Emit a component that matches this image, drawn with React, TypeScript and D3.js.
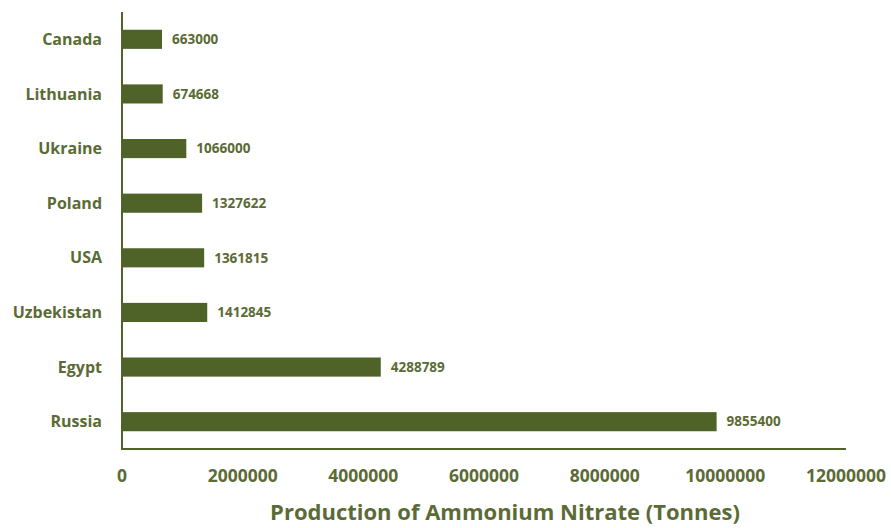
import React from "react";
import * as d3 from "d3";

const categories = ["Canada", "Lithuania", "Ukraine", "Poland", "USA", "Uzbekistan", "Egypt", "Russia"];
const values = [663000, 674668, 1066000, 1327622, 1361815, 1412845, 4288789, 9855400];
const xTicks = [0, 2000000, 4000000, 6000000, 8000000, 10000000, 12000000];
const xTitle = "Production of Ammonium Nitrate (Tonnes)";

const W = 891;
const H = 528;
const left = 122;
const right = 846;
const top = 12;
const bottom = 449;
const green = "#4f6228";
const textGreen = "#5b6b35";
const font = "'Open Sans', sans-serif";

export default function App() {
  const x = d3.scaleLinear().domain([0, 12000000]).range([left, right]);
  const y = d3.scaleBand<string>().domain(categories).range([top, bottom]).paddingInner(0.65).paddingOuter(0.325);
  return (
    <svg width={W} height={H} style={{ position: "absolute", left: 0, top: 0 }}>
      <rect width={W} height={H} fill="#fff" />
      {categories.map((c, i) => (
        <g key={c}>
          <rect x={x(0)} y={y(c)!} width={x(values[i]) - x(0)} height={y.bandwidth()} fill={green} />
          <text x={102} y={y(c)! + y.bandwidth() / 2} dy="0.35em" textAnchor="end" fontFamily={font} fontWeight={700} fontSize={16} fill={textGreen}>{c}</text>
          <text x={x(values[i]) + 10} y={y(c)! + y.bandwidth() / 2} dy="0.35em" fontFamily={font} fontWeight={700} fontSize={13.5} fill={textGreen}>{values[i]}</text>
        </g>
      ))}
      <line x1={left} x2={left} y1={top} y2={bottom} stroke={green} strokeWidth={2} />
      <line x1={left - 1} x2={right} y1={bottom} y2={bottom} stroke={green} strokeWidth={2} />
      {xTicks.map((t) => (
        <text key={t} x={x(t)} y={476} dy="0.35em" textAnchor="middle" fontFamily={font} fontWeight={700} fontSize={17.5} fill={textGreen}>{t}</text>
      ))}
      <text x={505} y={512} dy="0.35em" textAnchor="middle" fontFamily={font} fontWeight={700} fontSize={22} fill={textGreen}>{xTitle}</text>
    </svg>
  );
}
